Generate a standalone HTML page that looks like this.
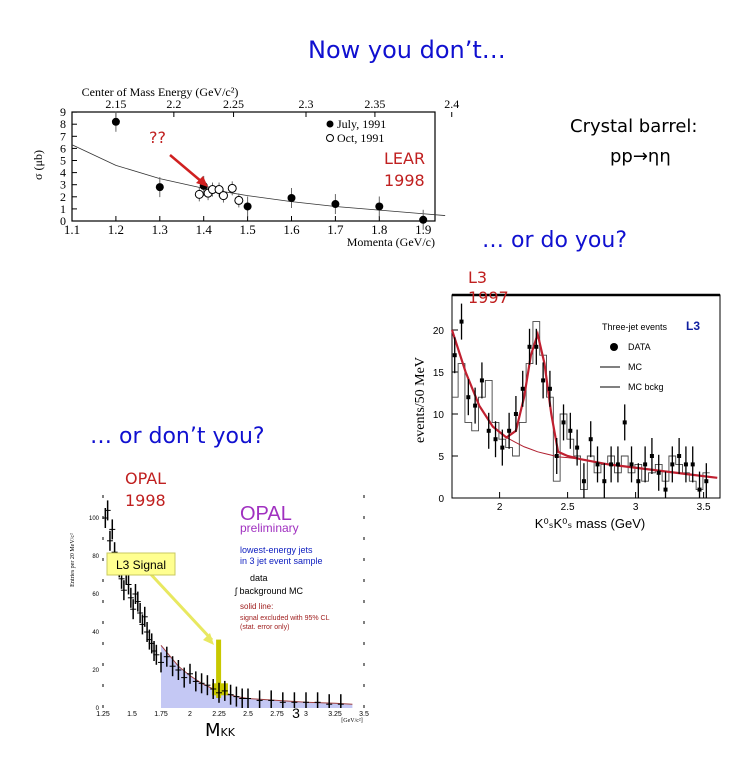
<!DOCTYPE html>
<html><head><meta charset="utf-8">
<style>
body{margin:0;background:#fff;width:756px;height:780px;overflow:hidden;position:relative;font-family:"Liberation Sans",sans-serif}
.t{position:absolute;white-space:nowrap;font-family:"Comic Sans MS","DejaVu Sans",sans-serif;z-index:2}
svg{position:absolute;left:0;top:0;z-index:1}
</style></head><body>
<div class="t" style="left:308px;top:36px;font-size:24px;color:#1010d0">Now you don’t…</div>
<div class="t" style="left:570px;top:116px;font-size:18px;color:#000">Crystal barrel:</div>
<div class="t" style="left:610px;top:146px;font-size:18px;color:#000">pp→ηη</div>
<div class="t" style="left:482px;top:228px;font-size:22px;color:#1010d0">… or do you?</div>
<div class="t" style="left:90px;top:424px;font-size:22px;color:#1010d0">… or don’t you?</div>
<div class="t" style="left:468px;top:268px;font-size:16px;line-height:20px;color:#c02020">L3<br>1997</div>
<div class="t" style="left:125px;top:468px;font-size:16px;line-height:22px;color:#c02020">OPAL<br>1998</div>
<div class="t" style="left:384px;top:148px;font-size:16px;line-height:22px;color:#c02020">LEAR<br>1998</div>
<div class="t" style="left:149px;top:128px;font-size:16px;color:#c02020">??</div>
<div class="t" style="left:205px;top:720px;font-size:18px;color:#000">M<span style="font-size:11px">KK</span></div>
<svg id="s" width="756" height="780"></svg>
<script>
// LEAR chart data
const learJulyX=[1.2,1.3,1.4,1.5,1.6,1.7,1.8,1.9];
const learJulyY=[8.2,2.8,2.9,1.2,1.9,1.4,1.2,0.1];
const learOctX=[1.39,1.41,1.42,1.435,1.445,1.465,1.48];
const learOctY=[2.2,2.3,2.6,2.6,2.1,2.7,1.7];
const learCurveX=[1.1,1.2,1.3,1.4,1.5,1.6,1.7,1.8,1.9,1.95];
const learCurveY=[6.3,4.6,3.5,2.7,2.1,1.6,1.2,0.9,0.6,0.45];
const learBottomTicks=["1.1","1.2","1.3","1.4","1.5","1.6","1.7","1.8","1.9"];
const learTopTicks=["2.15","2.2","2.25","2.3","2.35","2.4"];
const learTopTickPos=[1.2,1.332,1.468,1.633,1.79,1.965];
// L3 chart data
const l3X=[1.67,1.72,1.77,1.82,1.87,1.92,1.97,2.02,2.07,2.12,2.17,2.22,2.27,2.32,2.37,2.42,2.47,2.52,2.57,2.62,2.67,2.72,2.77,2.82,2.87,2.92,2.97,3.02,3.07,3.12,3.17,3.22,3.27,3.32,3.37,3.42,3.47,3.52];
const l3Y=[17,21,12,11,14,8,7,6,8,10,13,18,18,14,13,5,9,8,6,2,7,4,2,4,4,9,4,2,4,5,3,1,4,5,4,4,1,2];
const l3MC=[12,16,9,8,12,14,9,7,6,5,9,16,21,17,12,2,10,7,5,1,5,3,4,5,3,5,3,4,2,3,4,2,5,4,3,2,1,3];
const l3FitX=[1.65,1.75,1.85,1.95,2.05,2.12,2.18,2.23,2.28,2.33,2.38,2.43,2.5,2.6,2.8,3.0,3.2,3.4,3.6];
const l3FitY=[20,15,11,8.5,7.2,8,12,17,19.5,16,10,5.5,5,4.6,4.0,3.6,3.2,2.8,2.4];
const l3BkgY=[20,15,11,8.5,7.2,6.6,6.1,5.8,5.5,5.3,5.1,4.9,4.8,4.6,4.0,3.6,3.2,2.8,2.4];
const l3XTicks=["2","2.5","3","3.5"];
const l3YTicks=["0","5","10","15","20"];
// OPAL chart data
const opX=[1.27,1.29,1.31,1.33,1.35,1.37,1.39,1.41,1.43,1.45,1.47,1.49,1.51,1.53,1.55,1.57,1.59,1.61,1.63,1.65,1.67,1.69,1.71,1.75,1.8,1.85,1.9,1.95,2.0,2.05,2.1,2.15,2.2,2.25,2.3,2.35,2.4,2.45,2.5,2.6,2.7,2.8,2.9,3.0,3.1,3.2,3.3];
const opY=[100,104,88,94,82,76,74,68,62,70,65,58,52,60,56,50,44,48,40,36,34,30,28,24,27,22,20,16,18,14,13,12,10,8,9,7,6,5,5,4,4,3,3,3,3,2,2];
const opBkgX=[1.75,1.9,2.0,2.1,2.2,2.3,2.4,2.5,2.75,3.0,3.25,3.4];
const opBkgY=[33,22,17,13,10,8,6,5,4,3,2.5,2];
const opXTicks=["1.25","1.5","1.75","2","2.25","2.5","2.75","3","3.25","3.5"];
const opYTicks=["0","20","40","60","80","100"];

const s=document.getElementById('s');
const NS='http://www.w3.org/2000/svg';
function mk(tag,at,parent){const e=document.createElementNS(NS,tag);for(const k in at)e.setAttribute(k,at[k]);(parent||s).appendChild(e);return e;}
function txt(x,y,str,sz,fill,anchor,fam){const e=mk('text',{x:x,y:y,'font-size':sz,fill:fill||'#000','text-anchor':anchor||'middle','font-family':fam||'"Liberation Serif",serif'});e.textContent=str;return e;}

// ---- LEAR ----
const lx=v=>72+(v-1.1)*439, ly=v=>221-v*12.1;
let g=mk('g',{});
mk('rect',{x:72,y:112,width:363,height:109,fill:'none',stroke:'#000','stroke-width':1.2},g);
for(let i=0;i<=9;i++){mk('line',{x1:72,x2:77,y1:ly(i),y2:ly(i),stroke:'#000'},g);const t=txt(66,ly(i)+4,String(i),12,'#000','end');g.appendChild(t);}
learBottomTicks.forEach(t=>{const v=parseFloat(t);mk('line',{x1:lx(v),x2:lx(v),y1:221,y2:216,stroke:'#000'},g);g.appendChild(txt(lx(v),234,t,13));});
learTopTicks.forEach((t,i)=>{const x=lx(learTopTickPos[i]);mk('line',{x1:x,x2:x,y1:112,y2:117,stroke:'#000'},g);g.appendChild(txt(x,108,t,12));});
g.appendChild(txt(160,96,'Center of Mass Energy (GeV/c²)',12));
g.appendChild(txt(435,246,'Momenta (GeV/c)',12,'#000','end'));
const yl=txt(42,165,'σ (μb)',12);yl.setAttribute('transform','rotate(-90 42 165)');g.appendChild(yl);
mk('polyline',{points:learCurveX.map((v,i)=>lx(v)+','+ly(learCurveY[i])).join(' '),fill:'none',stroke:'#333','stroke-width':0.8},g);
learJulyX.forEach((v,i)=>{const x=lx(v),y=ly(learJulyY[i]);mk('line',{x1:x,x2:x,y1:y-10,y2:y+10,stroke:'#666'},g);const c=mk('circle',{cx:x,cy:y,r:4,fill:'#000'},g);});
learOctX.forEach((v,i)=>{const x=lx(v),y=ly(learOctY[i]);mk('line',{x1:x,x2:x,y1:y-7,y2:y+7,stroke:'#666'},g);const c=mk('circle',{cx:x,cy:y,r:4,fill:'#fff',stroke:'#000'},g);});
mk('circle',{cx:330,cy:124,r:3.5,fill:'#000'},g);g.appendChild(txt(337,128,'July, 1991',12,'#000','start'));
mk('circle',{cx:330,cy:138,r:3.5,fill:'#fff',stroke:'#000'},g);g.appendChild(txt(337,142,'Oct, 1991',12,'#000','start'));
mk('line',{x1:170,x2:202,y1:155,y2:182,stroke:'#d02020','stroke-width':2.5},g);
mk('polygon',{points:'208,187 196,183 203,176',fill:'#d02020'},g);

// ---- L3 ----
const ax=v=>452+(v-1.65)*136, ay=v=>498-v*8.4;
g=mk('g',{});
mk('rect',{x:452,y:295,width:268,height:203,fill:'none',stroke:'#000','stroke-width':1},g);
mk('line',{x1:452,x2:720,y1:295,y2:295,stroke:'#000','stroke-width':2.5},g);
l3YTicks.forEach(t=>{const v=+t;mk('line',{x1:452,x2:458,y1:ay(v),y2:ay(v),stroke:'#000'},g);g.appendChild(txt(444,ay(v)+4,t,10,'#000','end','"Liberation Sans",sans-serif'));});
l3XTicks.forEach(t=>{const v=+t;mk('line',{x1:ax(v),x2:ax(v),y1:498,y2:492,stroke:'#000'},g);g.appendChild(txt(ax(v),510,t,10,'#000','middle','"Liberation Sans",sans-serif'));});
const yl2=txt(424,400,'events/50 MeV',14);yl2.setAttribute('transform','rotate(-90 424 400)');g.appendChild(yl2);
g.appendChild(txt(590,528,'K⁰ₛK⁰ₛ mass (GeV)',13,'#000','middle','"Liberation Sans",sans-serif'));
let pts='';l3X.forEach((v,i)=>{pts+=ax(v-0.025)+','+ay(l3MC[i])+' '+ax(v+0.025)+','+ay(l3MC[i])+' ';});
mk('polyline',{points:pts,fill:'none',stroke:'#444','stroke-width':0.9},g);
mk('polyline',{points:l3FitX.map((v,i)=>ax(v)+','+ay(l3BkgY[i])).join(' '),fill:'none',stroke:'#b02030','stroke-width':1},g);
mk('polyline',{points:l3FitX.map((v,i)=>ax(v)+','+ay(l3FitY[i])).join(' '),fill:'none',stroke:'#c02030','stroke-width':2.2},g);
l3X.forEach((v,i)=>{const x=ax(v),y=ay(l3Y[i]);mk('line',{x1:x,x2:x,y1:y-18,y2:Math.min(498,y+18),stroke:'#000','stroke-width':1.3},g);const r=mk('rect',{x:x-2,y:y-2,width:4,height:4,fill:'#000'},g);});
g.appendChild(txt(700,330,'L3',12,'#1020a0','end','"Liberation Sans",sans-serif')).setAttribute('font-weight','bold');
g.appendChild(txt(602,330,'Three-jet events',9,'#000','start','"Liberation Sans",sans-serif'));
mk('circle',{cx:614,cy:347,r:4,fill:'#000'},g);g.appendChild(txt(628,350,'DATA',9,'#000','start','"Liberation Sans",sans-serif'));
mk('line',{x1:600,x2:620,y1:367,y2:367,stroke:'#000'},g);g.appendChild(txt(628,370,'MC',9,'#000','start','"Liberation Sans",sans-serif'));
mk('line',{x1:600,x2:620,y1:387,y2:387,stroke:'#000'},g);g.appendChild(txt(628,390,'MC bckg',9,'#000','start','"Liberation Sans",sans-serif'));

// ---- OPAL ----
const ox=v=>103+(v-1.25)*116, oy=v=>708-v*1.9;
g=mk('g',{});
mk('line',{x1:103,x2:103,y1:495,y2:708,stroke:'#000','stroke-dasharray':'3,18'},g);
mk('line',{x1:364,x2:364,y1:495,y2:708,stroke:'#000','stroke-dasharray':'3,18'},g);
mk('polygon',{points:ox(1.75)+',708 '+opBkgX.map((v,i)=>ox(v)+','+oy(opBkgY[i])).join(' ')+' '+ox(3.4)+',708',fill:'#c4c8f4'},g);
mk('polyline',{points:opBkgX.map((v,i)=>ox(v)+','+oy(opBkgY[i])).join(' '),fill:'none',stroke:'#a04040','stroke-width':1},g);
mk('rect',{x:ox(2.225),y:oy(36),width:5,height:oy(0)-oy(36)-10,fill:'#c8c800'},g);
mk('rect',{x:ox(2.19),y:oy(13),width:16,height:12,fill:'#c8c800'},g);
opYTicks.forEach(t=>{const v=+t;g.appendChild(txt(99,oy(v)+2,t,6,'#000','end','"Liberation Sans",sans-serif'));});
opXTicks.forEach(t=>{const v=+t;g.appendChild(txt(ox(v),716,t,7,'#000','middle','"Liberation Sans",sans-serif'));});
g.appendChild(txt(296,718,'3',14,'#000','middle','"Liberation Sans",sans-serif'));
g.appendChild(txt(352,722,'[GeV/c²]',6,'#000','middle'));
const yl3=txt(74,560,'Entries per 20 MeV/c²',6);yl3.setAttribute('transform','rotate(-90 74 560)');g.appendChild(yl3);
opX.forEach((v,i)=>{const x=ox(v),y=oy(opY[i]);const l=mk('line',{x1:x,x2:x,y1:y-10,y2:Math.min(708,y+10),stroke:'#000','stroke-width':1.5},g);mk('line',{x1:x-3,x2:x+3,y1:y,y2:y,stroke:'#000'},g);});
g.appendChild(txt(240,520,'OPAL',20,'#a030c0','start','"Liberation Sans",sans-serif'));
g.appendChild(txt(240,532,'preliminary',12,'#a030c0','start','"Liberation Sans",sans-serif'));
g.appendChild(txt(240,553,'lowest-energy jets',9,'#1020c0','start','"Liberation Sans",sans-serif'));
g.appendChild(txt(240,564,'in 3   jet event sample',9,'#1020c0','start','"Liberation Sans",sans-serif'));
g.appendChild(txt(250,581,'data',9,'#000','start','"Liberation Sans",sans-serif'));
g.appendChild(txt(235,594,'ʃ  background MC',9,'#000','start','"Liberation Sans",sans-serif'));
g.appendChild(txt(240,609,'solid line:',8,'#a02020','start','"Liberation Sans",sans-serif'));
g.appendChild(txt(240,620,'signal excluded with 95% CL',7,'#a02020','start','"Liberation Sans",sans-serif'));
g.appendChild(txt(240,629,'(stat. error only)',7,'#a02020','start','"Liberation Sans",sans-serif'));
mk('line',{x1:145,x2:212,y1:568,y2:640,stroke:'#e8e860','stroke-width':3},g);
mk('polygon',{points:'214,645 203,640 210,633',fill:'#e8e860'},g);
const lb=mk('rect',{x:107,y:553,width:68,height:22,fill:'#ffff90',stroke:'#c8c860'},g);
g.appendChild(txt(141,569,'L3 Signal',12,'#000','middle','"Liberation Sans",sans-serif'));
</script>
</body></html>
